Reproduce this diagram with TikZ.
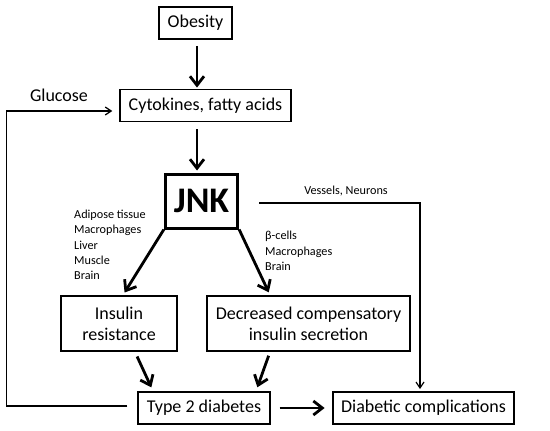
\documentclass[tikz,border=0pt]{standalone}
\usepackage{fontspec}
\setmainfont{Carlito}
\usepackage{tikz}
\usetikzlibrary{arrows.meta,positioning,calc}

\begin{document}
\begin{tikzpicture}[x=1pt,y=-1pt]
		\tikzstyle{diabox}=[rectangle,draw=black,line width=1.9pt,
		inner xsep=8.5pt,minimum height=32pt,align=center,
		font=\fontsize{18}{21}\selectfont]
		\tikzstyle{jnkbox}=[diabox,line width=3pt,minimum width=71pt,
		minimum height=54pt,font=\fontsize{36}{40}\selectfont\bfseries]
		\tikzstyle{tisslbl}=[align=left,inner sep=0pt,
		font=\fontsize{12.2}{15.4}\selectfont]
		\tikzstyle{arr}=[-{Straight Barb[length=9pt,width=14pt]},line width=2.8pt]
		\tikzstyle{thinarr}=[-{Straight Barb[length=6pt,width=8pt]},line width=1.2pt]
		\useasboundingbox (0,0) rectangle (550,431);
		\node[diabox] (obes) at (195.5,23) {Obesity};
		\node[diabox] (cyto) at (205.5,105.5) {Cytokines, fatty acids};
		\node[jnkbox] (jnk)  at (201.5,201) {JNK};
		\node[diabox,minimum width=116pt,minimum height=55pt] (ins) at (119,323.5) {Insulin\\resistance};
		\node[diabox,minimum height=55pt] (dec) at (308.5,323.5) {Decreased compensatory\\insulin secretion};
		\node[diabox] (t2d) at (204,408) {Type 2 diabetes};
		\node[diabox] (dc)  at (423.5,408) {Diabetic complications};
		% labels
		\node[font=\fontsize{18}{21}\selectfont] (gluc) at (59,95) {Glucose};
		\node[tisslbl,anchor=west] (tiss1) at (74,245) {Adipose tissue\\Macrophages\\Liver\\Muscle\\Brain};
		\node[tisslbl,anchor=west] (tiss2) at (265,251) {β-cells\\Macrophages\\Brain};
		\node[tisslbl] (vn) at (346,191) {Vessels, Neurons};
		% arrows
		\draw[arr,shorten <=6pt,shorten >=1pt] ([xshift=1.5pt]obes.south) -- ([xshift=1.5pt]obes.south |- cyto.north);
		\draw[arr,shorten <=7pt,shorten >=2pt] ([xshift=1.5pt]obes.south |- cyto.south) -- ([xshift=1.5pt]obes.south |- jnk.north);
		\draw[arr,shorten >=3pt] (jnk.south west) -- ([xshift=4pt]ins.north);
		\draw[arr,shorten >=3pt] (jnk.south east) -- ([xshift=-38.5pt]dec.north);
		\draw[arr,shorten <=5pt,shorten >=4pt] ([xshift=16pt]ins.south) -- ([xshift=-51pt]t2d.north);
		\draw[arr,shorten <=4pt,shorten >=4pt] ([xshift=-38.5pt]dec.south) -- ([xshift=52pt]t2d.north);
		\draw[arr,shorten <=9pt,shorten >=7pt] (t2d.east) -- (dc.west);
		\draw[thinarr,shorten >=7pt] ([xshift=-10pt,yshift=2pt]t2d.west) -- ++(-121,0) |- ([yshift=-5.5pt]cyto.west);
		\draw[thinarr,shorten >=2pt] ([xshift=20pt,yshift=-2pt]jnk.east) -| ([xshift=-3.5pt]dc.north);
	\end{tikzpicture}
\end{document}
